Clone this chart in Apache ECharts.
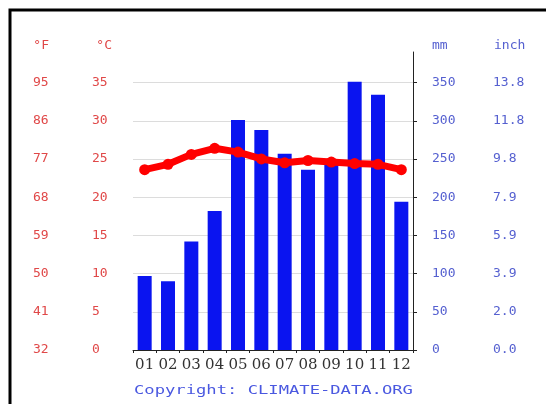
<!DOCTYPE html>
<html>
<head>
<meta charset="utf-8">
<script src="https://cdn.jsdelivr.net/npm/echarts@6/dist/echarts.min.js"></script>
<style>
html,body{margin:0;padding:0;background:#fff;}
#c{width:546px;height:404px;}
</style>
</head>
<body>
<div id="c"></div>
<script>
const months = ['01','02','03','04','05','06','07','08','09','10','11','12'];
const precipMm = [97, 90, 142, 182, 301, 288, 257, 236, 245, 351, 334, 194];
const tempC = [23.6, 24.3, 25.6, 26.4, 25.9, 25.0, 24.5, 24.8, 24.6, 24.4, 24.3, 23.6];
const headers = {f: '°F', c: '°C', mm: 'mm', inch: 'inch'};
const copyrightText = 'Copyright: CLIMATE-DATA.ORG';

const red = '#e04848';
const blue = '#5560d0';
const monoFont = 'DejaVu Sans Mono';

const chart = echarts.init(document.getElementById('c'), null, {renderer: 'canvas'});
chart.setOption({
  animation: false,
  backgroundColor: '#fff',
  grid: {left: 133, right: 133, top: 52, bottom: 54},
  xAxis: {
    type: 'category',
    data: months,
    axisLine: {lineStyle: {color: '#222', width: 1}},
    axisTick: {show: true, length: 3, lineStyle: {color: '#222'}},
    axisLabel: {color: '#333', fontFamily: 'DejaVu Serif', fontSize: 15, margin: 8, interval: 0}
  },
  yAxis: [
    {
      type: 'value', position: 'left', min: 0, max: 39, interval: 5,
      name: headers.c, nameLocation: 'end', nameGap: 0,
      nameTextStyle: {color: red, fontFamily: monoFont, fontSize: 13, align: 'right', padding: [0, 21, 0, 0]},
      axisLine: {show: false}, axisTick: {show: false}, splitLine: {show: false},
      axisLabel: {color: red, fontFamily: monoFont, fontSize: 13, margin: 41, align: 'left', showMaxLabel: false}
    },
    {
      type: 'value', position: 'left', min: 0, max: 39, interval: 5,
      name: headers.f, nameLocation: 'end', nameGap: 0,
      nameTextStyle: {color: red, fontFamily: monoFont, fontSize: 13, align: 'right', padding: [0, 84, 0, 0]},
      axisLine: {show: false}, axisTick: {show: false}, splitLine: {show: false},
      axisLabel: {color: red, fontFamily: monoFont, fontSize: 13, margin: 100, align: 'left', showMaxLabel: false,
        formatter: v => String(Math.round(v * 1.8 + 32))}
    },
    {
      type: 'value', position: 'right', min: 0, max: 390, interval: 50,
      name: headers.mm, nameLocation: 'end', nameGap: 0,
      nameTextStyle: {color: blue, fontFamily: monoFont, fontSize: 13, align: 'left', padding: [0, 0, 0, 19]},
      axisLine: {show: true, lineStyle: {color: '#222', width: 1}},
      axisTick: {show: true, length: 4, lineStyle: {color: '#222'}},
      splitLine: {show: true, showMinLine: false, showMaxLine: false, lineStyle: {color: '#dcdcdc', width: 1}},
      axisLabel: {color: blue, fontFamily: monoFont, fontSize: 13, margin: 19, align: 'left', showMaxLabel: false}
    },
    {
      type: 'value', position: 'right', min: 0, max: 390, interval: 50,
      name: headers.inch, nameLocation: 'end', nameGap: 0,
      nameTextStyle: {color: blue, fontFamily: monoFont, fontSize: 13, align: 'left', padding: [0, 0, 0, 81]},
      axisLine: {show: false}, axisTick: {show: false}, splitLine: {show: false},
      axisLabel: {color: blue, fontFamily: monoFont, fontSize: 13, margin: 80, align: 'left', showMaxLabel: false,
        formatter: v => (v / 25.4).toFixed(1)}
    }
  ],
  series: [
    {
      type: 'bar', yAxisIndex: 2, data: precipMm, barWidth: 14,
      itemStyle: {color: '#0a14f0'}
    },
    {
      type: 'line', yAxisIndex: 0, data: tempC,
      lineStyle: {color: '#ff0000', width: 7},
      itemStyle: {color: '#ff0000'},
      symbol: 'circle', symbolSize: 11, z: 5
    }
  ],
  graphic: [
    {type: 'rect', shape: {x: 10, y: 10, width: 560, height: 420}, style: {fill: null, stroke: '#000', lineWidth: 3}, silent: true},
    {type: 'text', left: 134, top: 384, style: {text: copyrightText, fill: '#4a58e0', font: '13px "DejaVu Sans Mono"'}, scaleX: 1.32}
  ]
});
</script>
</body>
</html>
